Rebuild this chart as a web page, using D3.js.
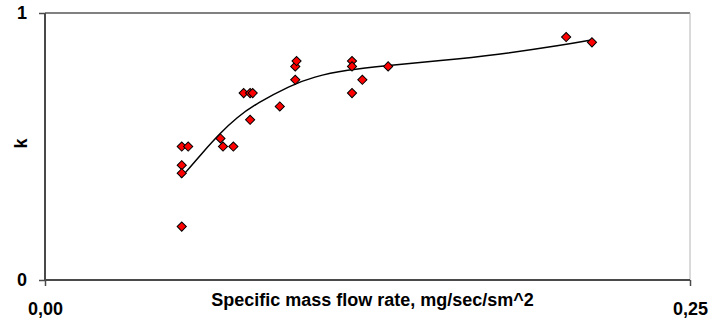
<!DOCTYPE html>
<html>
<head>
<meta charset="utf-8">
<script src="https://cdn.jsdelivr.net/npm/d3@7"></script>
<style>
  body { margin: 0; background: #fff; }
  text { font-family: "Liberation Sans", Arial, sans-serif; font-weight: bold; fill: #000; }
</style>
</head>
<body>
<div id="chart"></div>
<script>
// measured points (flow rate, k)
var flowRate = [0.053, 0.0555, 0.053, 0.053, 0.053,
                0.068, 0.069, 0.073,
                0.077, 0.0795, 0.0805, 0.0795,
                0.091,
                0.097, 0.097, 0.0975,
                0.119, 0.119, 0.119, 0.123,
                0.133,
                0.202, 0.212];
var kValues = [0.50, 0.50, 0.43, 0.40, 0.20,
               0.53, 0.50, 0.50,
               0.70, 0.70, 0.70, 0.60,
               0.65,
               0.75, 0.80, 0.82,
               0.82, 0.80, 0.70, 0.75,
               0.80,
               0.91, 0.89];

// trend line
var trendX = [0.0527, 0.0614, 0.0678, 0.0743, 0.0821, 0.0950, 0.1040, 0.1169, 0.1324, 0.1531, 0.1751, 0.2009, 0.2119];
var trendY = [0.383, 0.481, 0.549, 0.609, 0.662, 0.728, 0.761, 0.787, 0.803, 0.821, 0.843, 0.880, 0.899];

var xTicks = [0, 0.25];
var yTicks = [0, 1];
var xTitle = "Specific mass flow rate, mg/sec/sm^2";
var yTitle = "k";

var margin = {top: 13, right: 32, bottom: 41, left: 45},
    width = 722 - margin.left - margin.right,
    height = 321 - margin.top - margin.bottom;

var x = d3.scaleLinear().domain([0, 0.25]).range([0, width]);
var y = d3.scaleLinear().domain([0, 1]).range([height, 0]);

var svg = d3.select("#chart").append("svg")
    .attr("width", 722)
    .attr("height", 321)
  .append("g")
    .attr("transform", "translate(" + margin.left + "," + margin.top + ")");

// plot area border (top + right)
svg.append("line")
    .attr("x1", 0).attr("x2", width).attr("y1", 0).attr("y2", 0)
    .attr("stroke", "#808080").attr("stroke-width", 2);
svg.append("line")
    .attr("x1", width).attr("x2", width).attr("y1", 0).attr("y2", height)
    .attr("stroke", "#b4b4b4").attr("stroke-width", 1);

var fmt = function(d) { return d3.format(".2f")(d).replace(".", ","); };

var xAxis = svg.append("g")
    .attr("class", "x axis")
    .attr("transform", "translate(0," + height + ")")
    .call(d3.axisBottom(x).tickValues(xTicks).tickSize(6).tickPadding(16).tickFormat(fmt));

var yAxis = svg.append("g")
    .attr("class", "y axis")
    .call(d3.axisLeft(y).tickValues(yTicks).tickSize(6).tickPadding(12).tickFormat(d3.format("d")));

svg.selectAll(".axis path").attr("stroke", "#4a4a4a").attr("stroke-width", 2);
svg.selectAll(".axis line").attr("stroke", "#4a4a4a").attr("stroke-width", 1.5);
svg.selectAll(".axis text")
    .style("font-family", "'Liberation Sans', Arial, sans-serif")
    .style("font-weight", "bold")
    .style("font-size", "18px")
    .attr("fill", "#000");
xAxis.select(".domain").attr("d", "M0,0H" + width);
yAxis.select(".domain").attr("d", "M0," + height + "V0");

// axis titles
svg.append("text")
    .attr("x", width / 2 + 5)
    .attr("y", height + 26)
    .attr("text-anchor", "middle")
    .style("font-size", "18px")
    .text(xTitle);

svg.append("text")
    .attr("transform", "translate(" + (27 - margin.left) + "," + (height / 2 - 3) + ") rotate(-90)")
    .attr("text-anchor", "middle")
    .style("font-size", "18px")
    .text(yTitle);

// trend line
var trend = trendX.map(function(d, i) { return {x: d, y: trendY[i]}; });
svg.append("path")
    .datum(trend)
    .attr("fill", "none")
    .attr("stroke", "#000")
    .attr("stroke-width", 1.5)
    .attr("d", d3.line()
        .x(function(d) { return x(d.x); })
        .y(function(d) { return y(d.y); })
        .curve(d3.curveBasis));

// points
var points = flowRate.map(function(d, i) { return {x: d, y: kValues[i]}; });
svg.selectAll(".pt")
    .data(points)
    .enter().append("path")
    .attr("class", "pt")
    .attr("d", d3.symbol(d3.symbolSquare, 42))
    .attr("transform", function(d) { return "translate(" + x(d.x) + "," + y(d.y) + ") rotate(45)"; })
    .attr("fill", "#ff0000")
    .attr("stroke", "#000")
    .attr("stroke-width", 1);
</script>
</body>
</html>
